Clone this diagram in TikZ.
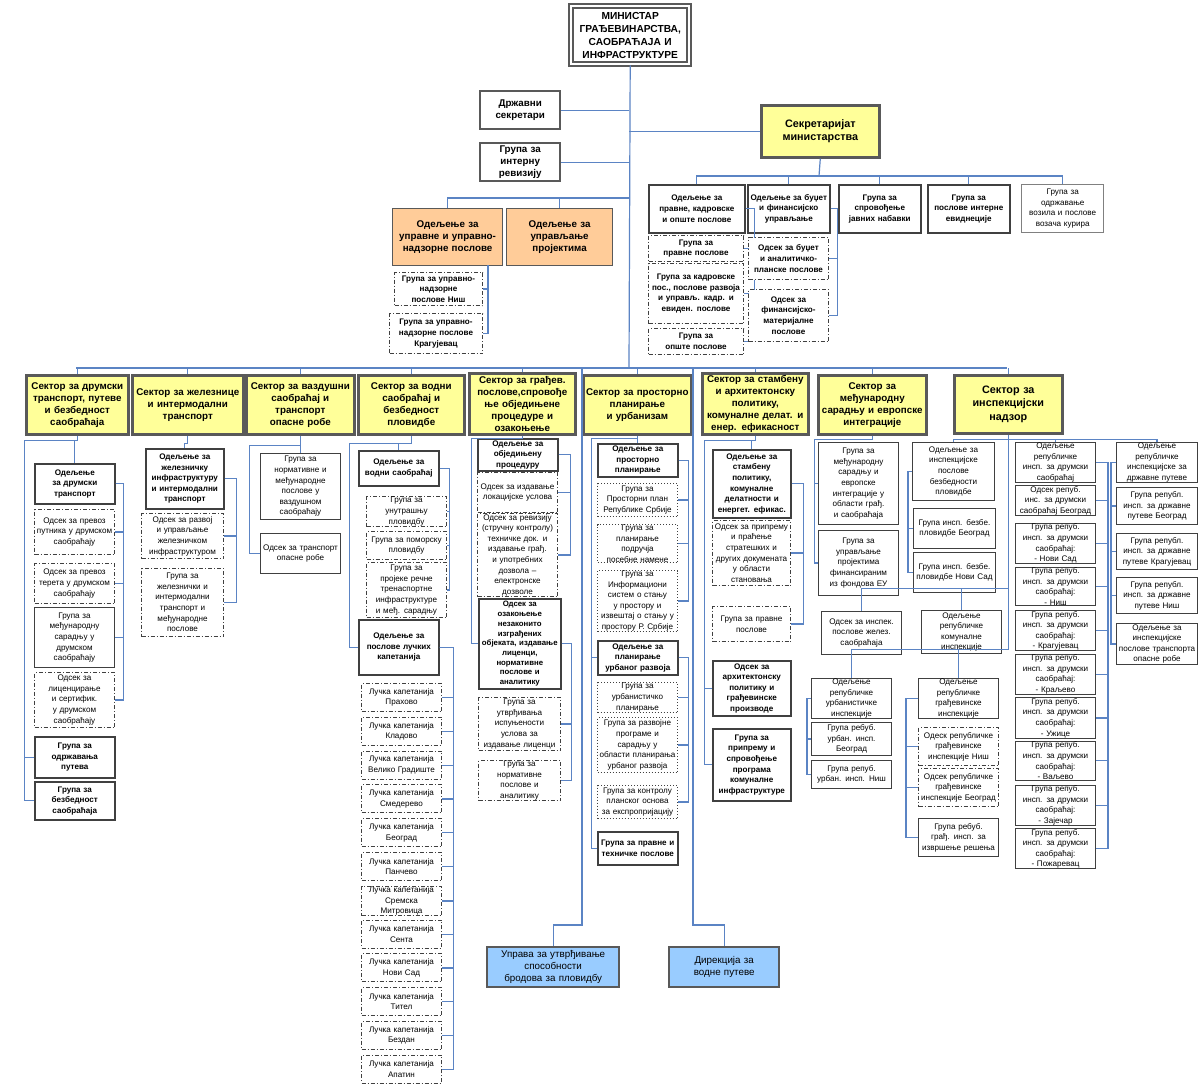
\documentclass[tikz,border=0pt]{standalone}
\usepackage{fontspec}
\setmainfont{Liberation Sans}
\usetikzlibrary{calc}
\definecolor{secy}{HTML}{FFFF99}
\definecolor{orng}{HTML}{FFCC99}
\definecolor{lblue}{HTML}{99CCFF}
\definecolor{lnc}{HTML}{5B84C4}
\newcommand\fs{\fontsize{4.05}{5.3}\selectfont}
\newcommand\fb{\fontsize{4.9}{6}\selectfont\bfseries}
\newcommand\B[7]{\pgfmathsetlengthmacro\bw{#5*0.5pt}\pgfmathsetlengthmacro\bh{#6*0.5pt}\pgfmathsetlengthmacro\tw{#5*0.5pt-2pt}%
\node[#1,anchor=north west,minimum width=\bw,minimum height=\bh,text width=\tw] (#2) at (#3,#4) {#7};}
\tikzset{
 bx/.style={draw=black!75,line width=0.5pt,fill=white,align=center,inner xsep=1pt,inner ysep=0.2pt,font=\fs},
 sb/.style={bx,font=\fs\bfseries,line width=0.8pt},
 dsh/.style={bx,dash pattern=on 2pt off 1pt on 0.5pt off 1pt},
 dot/.style={bx,densely dotted},
 sec/.style={bx,fill=secy,draw=black!65,line width=1.3pt,font=\fb},
 org/.style={bx,fill=orng,draw=black!65,line width=0.6pt,font=\fb},
 blu/.style={bx,fill=lblue,draw=black!65,line width=1.2pt,font=\fontsize{4.9}{6}\selectfont},
 top/.style={bx,draw=black!65,line width=1.2pt,font=\fb},
 gry/.style={bx,draw=black!50,line width=0.7pt},
 ln/.style={draw=lnc,line width=0.6pt},
}
\begin{document}
\begin{tikzpicture}[x=0.5pt,y=-0.5pt]
\useasboundingbox[fill=white] (0,0) rectangle (1200,1087);
% top
\B{top,double=white,double distance=0.8pt,font=\fontsize{5.1}{6.5}\selectfont\bfseries}{min}{570}{5}{118}{58}{МИНИСТАР ГРАЂЕВИНАРСТВА, САОБРАЋАЈА И ИНФРАСТРУКТУРЕ}
\B{top}{ds}{479}{90}{80}{38}{Државни секретари}
\B{top}{rev}{479}{142}{80}{38}{Група за интерну ревизију}
\B{sec,font=\fontsize{5.4}{6.6}\selectfont\bfseries}{sek}{760}{104}{118}{52}{Секретаријат министарства}
\coordinate (busM) at (629,368);
\coordinate (busL) at (76,368);
\coordinate (busR) at (1007,368);
\draw[ln] (min.south) -- (busM);
\draw[ln] (busL) -- (busR);
\draw[ln] (ds.east) -- (ds.east -| busM);
\draw[ln] (rev.east) -- (rev.east -| busM);
\draw[ln] (sek.west) -- (sek.west -| busM);
% orange
\coordinate (oy) at (629,198);
\B{org}{o1}{392}{208}{110}{57}{Одељење за управне и управно-надзорне послове}
\B{org}{o2}{506}{208}{106}{57}{Одељење за управљање пројектима}
\B{dsh,font=\fs\bfseries}{o1a}{394}{272}{88}{33}{Група за управно-надзорне послове Ниш}
\B{dsh,font=\fs\bfseries}{o1b}{389}{313}{93}{40}{Група за управно-надзорне послове Крагујевац}
\draw[ln] (o1.north) |- (oy); \draw[ln] (o2.north) |- (oy);
\coordinate (ob) at (488,265);
\draw[ln] (ob) |- (o1a.east); \draw[ln] (ob) |- (o1b.east);
% secretariat
\coordinate (sy) at (819,176);
\B{sb}{k1}{648}{184}{96}{48}{Одељење за правне, кадровске и опште послове}
\B{sb}{k2}{747}{184}{82}{48}{Одељење за буџет и финансијско управљање}
\B{sb}{k3}{838}{184}{82}{48}{Група за спровођење јавних набавки}
\B{sb}{k4}{927}{184}{82}{48}{Група за послове интерне евиднеције}
\B{gry}{k5}{1021}{184}{82}{48}{Група за одржавање возила и послове возача курира}
\draw[ln] (sek.south) -- (sy);
\foreach \n in {k1,k2,k3,k4,k5} \draw[ln] (\n.north) |- (sy);
\B{dsh,font=\fs\bfseries}{k1a}{648}{235}{95}{26}{Група за правне послове}
\B{dsh,font=\fs\bfseries}{k1b}{648}{263}{95}{60}{Група за кадровске пос., послове развоја и управљ. кадр. и евиден. послове}
\B{dsh,font=\fs\bfseries}{k1c}{648}{328}{95}{26}{Група за опште послове}
\foreach \n in {k1a,k1b,k1c} \draw[ln] (k1.east) -- ++(9,0) |- (\n.east);
\B{dsh,font=\fs\bfseries}{k2a}{748}{237}{80}{42}{Одсек за буџет и аналитичко-планске послове}
\B{dsh,font=\fs\bfseries}{k2b}{748}{289}{80}{52}{Одсек за финансијско-материјалне послове}
\foreach \n in {k2a,k2b} \draw[ln] (k2.east) -- ++(7,0) |- (\n.east);
% sectors
\B{sec}{s1}{25}{374}{102}{59}{Сектор за друмски транспорт, путеве и безбедност саобраћаја}
\B{sec}{s2}{131}{374}{111}{59}{Сектор за железнице и интермодални транспорт}
\B{sec}{s3}{245}{374}{108}{59}{Сектор за ваздушни саобраћај и транспорт опасне робе}
\B{sec}{s4}{357}{374}{106}{59}{Сектор за водни саобраћај и безбедност пловидбе}
\B{sec}{s5}{468}{372}{106}{61}{Сектор за грађев. послове,спровође ње обједињене процедуре и озакоњење}
\B{sec}{s6}{582}{374}{108}{59}{Сектор за просторно планирање и урбанизам}
\B{sec}{s7}{701}{372}{106}{61}{Сектор за стамбену и архитектонску политику, комуналне делат. и енер. ефикасност}
\B{sec}{s8}{817}{374}{108}{59}{Сектор за међународну сарадњу и европске интеграције}
\B{sec,font=\fontsize{5.4}{6.6}\selectfont\bfseries}{s9}{953}{374}{108}{58}{Сектор за инспекцијски надзор}
\foreach \n in {s1,s2,s3,s4,s5,s6,s7,s8,s9} \draw[ln] (\n.north) -- (\n.north |- busL);
% sector 1
\B{sb}{d1}{34}{463}{80}{40}{Одељење за друмски транспорт}
\B{dsh}{d1a}{34}{509}{80}{45}{Одсек за превоз путника у друмском саобраћају}
\B{dsh}{d1b}{34}{563}{80}{40}{Одсек за превоз терета у друмском саобраћају}
\B{bx}{d1c}{34}{607}{80}{60}{Група за међународну сарадњу у друмском саобраћају}
\B{dsh}{d1d}{34}{672}{80}{55}{Одсек за лиценцирање и сертифик. у друмском саобраћају}
\B{sb}{d1e}{34}{736}{80}{41}{Група за одржавања путева}
\B{sb}{d1f}{34}{781}{80}{38}{Група за безбедност саобраћаја}
\draw[ln] (s1.south) -- ++(0,5) coordinate (k1) -| (d1.north);
\foreach \n in {d1e,d1f} \draw[ln] (k1) -- ++(-53,0) |- (\n.west);
\foreach \n in {d1a,d1b,d1c,d1d} \draw[ln] (d1.east) -- ++(8,0) |- (\n.east);
% sector 2
\B{sb}{d2}{145}{448}{78}{60}{Одељење за железничку инфраструктуру и интермодални транспорт}
\B{dsh}{d2a}{141}{513}{82}{45}{Одсек за развој и управљање железничком инфраструктуром}
\B{dsh}{d2b}{141}{568}{82}{68}{Група за железнички и интермодални транспорт и међународне послове}
\draw[ln] (s2.south) -- ++(0,8) -| (d2.north);
\foreach \n in {d2a,d2b} \draw[ln] (d2.east) -- ++(12,0) |- (\n.east);
% sector 3
\B{bx}{g3a}{260}{453}{80}{66}{Група за нормативне и међународне послове у ваздушном саобраћају}
\B{bx}{g3b}{260}{533}{80}{40}{Одсек за транспорт опасне робе}
\draw[ln] (s3.south) -- ++(0,10) coordinate (k3) -| (g3a.north);
\draw[ln] (k3) -- ++(-51,0) |- (g3b.west);
% sector 4
\B{sb}{d4}{358}{450}{80}{35}{Одељење за водни саобраћај}
\B{dsh}{d4a}{366}{496}{80}{30}{Група за унутрашњу пловидбу}
\B{dsh}{d4b}{366}{531}{80}{28}{Група за поморску пловидбу}
\B{dsh}{d4c}{366}{562}{80}{55}{Група за пројеке речне тренаспортне инфраструктуре и међ. сарадњу}
\B{sb}{d4l}{358}{619}{80}{55}{Одељење за послове лучких капетанија}
\draw[ln] (s4.south) -- ++(0,8) coordinate (k4) -| (d4.north);
\draw[ln] (k4) -- ++(-62,0) |- (d4l.west);
\foreach \n in {d4a,d4b,d4c} \draw[ln] (d4.east) -- ++(10,0) |- (\n.east);
\foreach \t [count=\i] in {Прахово,Кладово,Велико Градиште,Смедерево,Београд,Панчево,Сремска Митровица,Сента,Нови Сад,Тител,Бездан,Апатин}{
 \pgfmathsetmacro\yy{683+(\i-1)*33.8}
 \B{dsh}{p\i}{361}{\yy}{80}{28}{Лучка капетанија \t}
 \draw[ln] (d4l.east) -- ++(14,0) |- (p\i.east);}
% sector 5
\B{sb}{d5}{477}{438}{80}{32}{Одељење за обједињену процедуру}
\B{dsh}{d5a}{477}{472}{80}{40}{Одсек за издавање локацијске услова}
\B{dsh}{d5b}{477}{513}{80}{83}{Одсек за ревизију (стручну контролу) техничке док. и издавање грађ. и употребних дозвола – електронске дозволе}
\B{sb,font=\fontsize{3.9}{4.85}\selectfont\bfseries}{d5o}{478}{598}{82}{90}{Одсек за озакоњење незаконито изграђених објеката, издавање лиценци, нормативне послове и аналитику}
\B{dsh}{d5c}{478}{697}{82}{53}{Група за утврђивања испуњености услова за издавање лиценци}
\B{dsh}{d5d}{478}{760}{82}{40}{Група за нормативне послове и аналитику}
\draw[ln] (s5.south) -- ++(0,3) coordinate (k5) -| (d5.north);
\draw[ln] (k5) -- ++(-51,0) |- (d5o.west);
\foreach \n in {d5a,d5b} \draw[ln] (d5.east) -- ++(12,0) |- (\n.east);
\foreach \n in {d5c,d5d} \draw[ln] (d5o.east) -- ++(10,0) |- (\n.east);
% sector 6
\B{sb}{d6}{597}{443}{80}{33}{Одељење за просторно планирање}
\B{dot}{d6a}{597}{483}{80}{33}{Група за Просторни план Републике Србије}
\B{dot}{d6b}{597}{524}{80}{38}{Група за планирање подручја посебне намене}
\B{dot}{d6c}{597}{570}{80}{60}{Група за Информациони систем о стању у простору и извештај о стању у простору Р. Србије}
\B{sb}{d6u}{597}{640}{80}{34}{Одељење за планирање урбаног развоја}
\B{dot}{d6d}{597}{682}{80}{30}{Група за урбанистичко планирање}
\B{dot}{d6e}{597}{717}{80}{55}{Група за развојне програме и сарадњу у области планирања урбаног развоја}
\B{dot}{d6f}{597}{785}{80}{33}{Група за контролу планског основа за експропријацију}
\B{sb}{d6p}{597}{831}{80}{33}{Група за правне и техничке послове}
\draw[ln] (s6.south) -- ++(0,3) coordinate (k6) -| (d6.north);
\foreach \n in {d6u,d6p} \draw[ln] (k6) -- ++(-46,0) |- (\n.west);
\foreach \n in {d6a,d6b,d6c} \draw[ln] (d6.east) -- ++(10,0) |- (\n.east);
\foreach \n in {d6d,d6e,d6f} \draw[ln] (d6u.east) -- ++(10,0) |- (\n.east);
% bottom
\B{blu}{up}{486}{946}{132}{40}{Управа за утврђивање способности бродова за пловидбу}
\B{blu}{dir}{668}{946}{110}{40}{Дирекција за водне путеве}
\coordinate (u1) at (582,368); \coordinate (u2) at (693,368);
\draw[ln] (u1) -- ++(0,557) -| (up.north);
\draw[ln] (u2) -- ++(0,557) -| (dir.north);
% sector 7
\B{sb}{d7}{712}{449}{78}{68}{Одељење за стамбену политику, комуналне делатности и енергет. ефикас.}
\B{dsh}{d7a}{712}{520}{78}{65}{Одсек за припрему и праћење стратешких и других докумената у области становања}
\B{dsh}{d7b}{712}{606}{78}{35}{Група за правне послове}
\B{sb}{d7c}{712}{660}{78}{55}{Одсек за архитектонску политику и грађевинске производе}
\B{sb}{d7d}{712}{728}{78}{72}{Група за припрему и спровођење програма комуналне инфраструктуре}
\draw[ln] (s7.south) -- ++(0,5) coordinate (k7) -| (d7.north);
\foreach \n in {d7c,d7d} \draw[ln] (k7) -- ++(-51,0) |- (\n.west);
\foreach \n in {d7a,d7b} \draw[ln] (d7.east) -- ++(12,0) |- (\n.east);
% sector 8
\B{bx}{g8a}{818}{442}{80}{82}{Група за међународну сарадњу и европске интеграције у области грађ. и саобраћаја}
\B{bx}{g8b}{818}{530}{80}{65}{Група за управљање пројектима финансираним из фондова ЕУ}
\draw[ln] (s8.south) -- ++(0,4) coordinate (k8);
\foreach \n in {g8a,g8b} \draw[ln] (k8) -- ++(-58,0) |- (\n.west);
% sector 9
\B{bx}{i1}{912}{442}{82}{58}{Одељење за инспекцијске послове безбедности пловидбе}
\B{bx}{i1a}{913}{508}{82}{40}{Група инсп. безбе. пловидбе Београд}
\B{bx}{i1b}{913}{552}{82}{40}{Група инсп. безбе. пловидбе Нови Сад}
\B{bx}{zel}{821}{611}{80}{43}{Одсек за инспек. послове желез. саобраћаја}
\B{bx}{kom}{921}{610}{80}{43}{Одељење републичке комуналне инспекције}
\B{bx}{urb}{811}{678}{80}{36}{Одељење републичке урбанистичке инспекције}
\B{bx}{ua}{811}{722}{80}{33}{Група ребуб. урбан. инсп. Београд}
\B{bx}{ub}{811}{760}{80}{28}{Група репуб. урбан. инсп. Ниш}
\B{bx}{grad}{918}{678}{80}{37}{Одељење републичке грађевинске инспекције}
\B{dsh}{ga}{918}{727}{80}{38}{Одеск републичке грађевинске инспекције Ниш}
\B{dsh}{gb}{918}{768}{80}{38}{Одсек републичке грађевинске инспекције Београд}
\B{bx}{gc}{918}{818}{80}{38}{Група ребуб. грађ. инсп. за извршење решења}
\draw[ln] (s9.south) -- ++(0,5) coordinate (k9);
\draw[ln] (k9) -- ++(0,149) coordinate (k9a) -- ++(0,61) coordinate (k9b);
\draw[ln] (k9) -| (i1.north);
\foreach \n in {i1a,i1b} \draw[ln] (i1.west) -- ++(-4,0) |- (\n.west);
\draw[ln] (k9a) -| (zel.north); \draw[ln] (k9a) -| (kom.north);
\draw[ln] (k9b) -| (urb.north); \draw[ln] (k9b) -| (grad.north);
\foreach \n in {ua,ub} \draw[ln] (urb.west) -- ++(-4,0) |- (\n.west);
\foreach \n in {ga,gb,gc} \draw[ln] (grad.west) -- ++(-12,0) |- (\n.west);
\B{bx}{r0}{1015}{442}{80}{36}{Одељење републичке инсп. за друмски саобраћај}
\B{bx}{r1}{1015}{485}{80}{30}{Одсек репуб. инс. за друмски саобраћај Београд}
\foreach \t [count=\i from 2] in {Нови Сад,Ниш,Крагујевац,Краљево,Ужице,Ваљево,Зајечар,Пожаревац}{
 \pgfmathsetmacro\yy{523+(\i-2)*43.6}
 \B{bx}{r\i}{1015}{\yy}{80}{37}{Група репуб. инсп. за друмски саобраћај: \\ - \t}}
\draw[ln] (k9) -| (r0.north);
\foreach \i in {1,...,9} \draw[ln] (r0.east) -- ++(12,0) |- (r\i.east);
\B{bx}{q0}{1116}{442}{81}{37}{Одељење републичке инспекцијске за државне путеве}
\B{bx}{q1}{1116}{487}{81}{37}{Група републ. инсп. за државне путеве Београд}
\B{bx}{q2}{1116}{533}{81}{36}{Група републ. инсп. за државне путеве Крагујевац}
\B{bx}{q3}{1116}{577}{81}{36}{Група републ. инсп. за државне путеве Ниш}
\B{bx}{q4}{1116}{623}{81}{41}{Одељење за инспекцијске послове транспорта опасне робе}
\draw[ln] (k9) -| (q0.north);
\foreach \n in {q1,q2,q3,q4} \draw[ln] (q0.west) -- ++(-5,0) |- (\n.west);
\end{tikzpicture}
\end{document}
